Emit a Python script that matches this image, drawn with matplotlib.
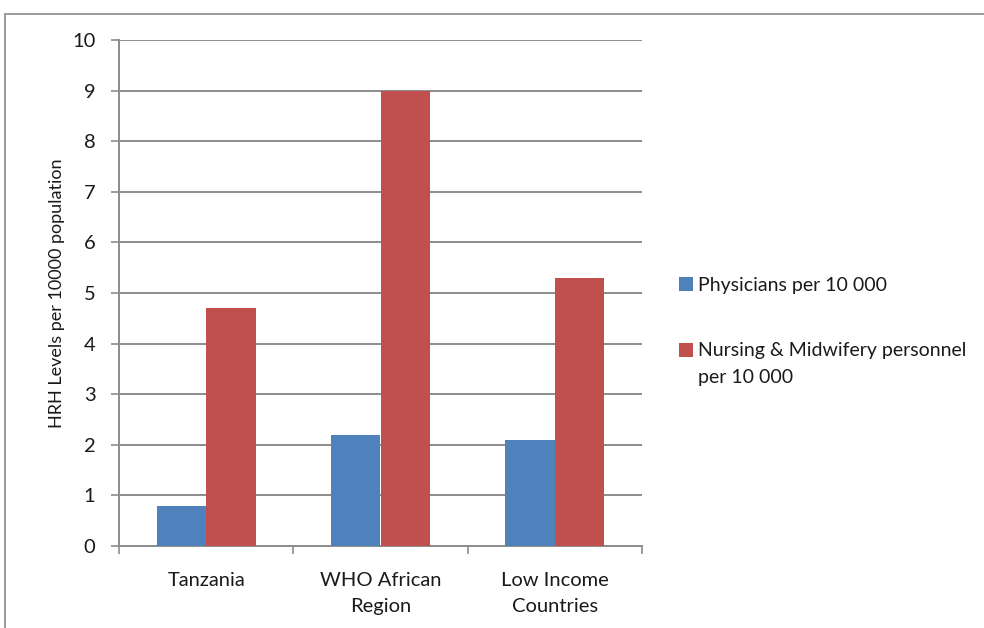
import matplotlib
matplotlib.use("Agg")
import matplotlib.pyplot as plt
import numpy as np
from matplotlib.lines import Line2D
from matplotlib.patches import Rectangle
from matplotlib.legend_handler import HandlerPatch

categories = ["Tanzania", "WHO African\nRegion", "Low Income\nCountries"]
physicians = [0.8, 2.2, 2.1]
nursing = [4.7, 9.0, 5.3]
series_labels = ["Physicians per 10 000", "Nursing & Midwifery personnel\nper 10 000"]
y_ticks = list(range(0, 11))

BLUE = "#4F81BD"
RED = "#C0504D"
GRID = "#8C8C8C"
TEXT = "#1a1a1a"
LEGEND_LINESPACING = 1.75

plt.rcParams["font.family"] = ["Lato", "DejaVu Sans"]

fig = plt.figure(figsize=(9.84, 6.28), dpi=100)
ax = fig.add_axes([119 / 984, 1 - 546 / 628, (642 - 119) / 984, (546 - 40) / 628])

x = np.arange(len(categories))
w = 0.283
bars_phys = ax.bar(x - w / 2, physicians, width=w, color=BLUE, zorder=3)
bars_nurse = ax.bar(x + w / 2, nursing, width=w, color=RED, zorder=3)

ax.set_xlim(-0.5, len(categories) - 0.5)
ax.set_ylim(0, 10)
ax.set_yticks(y_ticks)
ax.yaxis.grid(True, color=GRID, linewidth=1.4, zorder=0)
ax.set_axisbelow(True)

# category labels centred, tick marks on category boundaries
ax.set_xticks(x)
ax.set_xticklabels(categories, fontsize=14.5, color=TEXT, linespacing=1.7)
ax.tick_params(axis="x", length=0, pad=18.5)
ax.set_xticks(np.arange(-0.5, len(categories)), minor=True)
ax.tick_params(axis="x", which="minor", length=6, width=1.2, color=GRID)
ax.tick_params(axis="y", length=6, width=1.2, color=GRID, labelsize=14.5,
               labelcolor=TEXT, pad=11)

for side in ["top", "right"]:
    ax.spines[side].set_visible(False)
for side in ["left", "bottom"]:
    ax.spines[side].set_color(GRID)
    ax.spines[side].set_linewidth(1.4)

ax.set_ylabel("HRH Levels per 10000 population", fontsize=13, color=TEXT, labelpad=5)

# legend swatches; a wrapped label keeps its swatch level with the first line
handles = [bars_phys.patches[0], bars_nurse.patches[0]]
line_counts = {id(h): lab.count("\n") + 1 for h, lab in zip(handles, series_labels)}


def first_line_patch(legend, orig_handle, xdescent, ydescent, width, height, fontsize):
    n_lines = line_counts.get(id(orig_handle), 1)
    shift = (n_lines - 1) * 0.5 * fontsize * 1.44
    return Rectangle((-xdescent, -ydescent + shift), width, height)


leg = ax.legend(handles, series_labels, loc="upper left",
                bbox_to_anchor=(679 / 984, 1 - 277 / 628),
                bbox_transform=fig.transFigure, frameon=False, fontsize=14,
                handlelength=0.72, handleheight=0.72, handletextpad=0.25,
                labelspacing=2.45, borderpad=0, borderaxespad=0,
                handler_map={h: HandlerPatch(patch_func=first_line_patch) for h in handles})
for t in leg.get_texts():
    t.set_color(TEXT)
    t.set_linespacing(LEGEND_LINESPACING)

# chart frame (left and top edges)
fig.add_artist(Line2D([5 / 984, 5 / 984], [0, 1 - 14 / 628], transform=fig.transFigure,
                      color="#9a9a9a", linewidth=1.4))
fig.add_artist(Line2D([5 / 984, 1], [1 - 14 / 628, 1 - 14 / 628], transform=fig.transFigure,
                      color="#9a9a9a", linewidth=1.4))

fig.savefig("out.png", dpi=100)
